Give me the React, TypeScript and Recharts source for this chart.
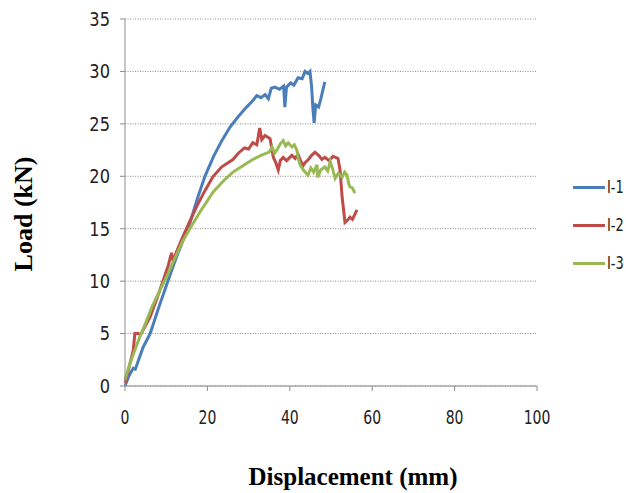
import React from 'react';
import { LineChart, Line, XAxis, YAxis, CartesianGrid } from 'recharts';

const xTicks = [0, 20, 40, 60, 80, 100];
const yTicks = [0, 5, 10, 15, 20, 25, 30, 35];

const seriesNames = ['I-1', 'I-2', 'I-3'];
const seriesColors = ['#4a7ebb', '#be4b48', '#98b954'];

// [displacement (mm), load (kN)]
const i1: [number, number][] = [
  [0, 0], [1, 1], [2, 1.7], [2.5, 1.6], [4.4, 3.7], [6.1, 5], [8.2, 7.5], [10.4, 10],
  [12.5, 12.3], [14.5, 14.3], [15.8, 15.6], [17.5, 17.8], [19.4, 20], [21.5, 21.9],
  [23.5, 23.4], [25.5, 24.7], [27.5, 25.7], [29.5, 26.6], [31, 27.2], [32, 27.7],
  [33, 27.5], [34, 27.8], [34.8, 27.4], [35.5, 28.4], [36.4, 28.5], [37.5, 28.3],
  [38.5, 28.6], [38.8, 26.6], [39.2, 28.5], [40.2, 28.9], [41, 28.7], [42, 29.4],
  [43, 29.3], [43.7, 30], [44.4, 29.8], [44.9, 30], [45.3, 28.5], [45.6, 26.5],
  [45.9, 25.1], [46.3, 26.8], [47, 26.6], [47.6, 27.5], [48.5, 29],
];

const i2: [number, number][] = [
  [0, 0.3], [1, 1.8], [2, 3.4], [2.4, 5], [3.2, 5], [3.8, 4.9], [4.5, 5.4], [6.1, 6.6],
  [7.7, 8.3], [9.2, 10], [10.5, 11.5], [11.3, 12.7], [11.7, 11.9], [12.5, 12.8],
  [14, 14.2], [15.5, 15.5], [17.5, 17.2], [19.5, 18.7], [21.4, 20], [23.5, 20.9],
  [26.2, 21.6], [27.5, 22.2], [29, 22.7], [30, 22.6], [31, 23.2], [32, 23], [32.7, 24.6],
  [33.2, 23.5], [34, 23.9], [35.2, 23.6], [35.7, 22.5], [36, 21.8], [36.6, 21.3],
  [37.2, 20.6], [37.7, 21.5], [38.4, 21.8], [39.2, 21.5], [40.5, 22], [41.3, 21.7],
  [42, 22.1], [42.5, 21.6], [43.2, 21], [43.7, 21.3], [44.5, 21.6], [45.3, 22],
  [46.1, 22.3], [47, 22], [47.8, 21.6], [48.5, 21.8], [49.5, 21.5], [50.5, 21.9],
  [51.7, 21.7], [52.2, 20.6], [52.7, 18], [53.4, 15.6], [54, 15.8], [54.6, 16.1],
  [55.2, 15.9], [56.3, 16.8],
];

const i3: [number, number][] = [
  [0, 0.6], [1, 1.9], [2, 3], [3.5, 4.6], [5, 6], [6.5, 7.5], [8.3, 9], [10.2, 10.5],
  [12, 12.1], [14, 13.8], [16.2, 15.3], [18.2, 16.6], [21.4, 18.5], [24, 19.6],
  [26.2, 20.4], [29, 21.1], [31, 21.6], [33, 22], [35, 22.3], [35.7, 22.8], [36.3, 22.2],
  [37, 22.6], [37.7, 23.1], [38.4, 23.4], [39, 22.9], [39.6, 23.2], [40.5, 22.8],
  [41.1, 23], [41.7, 22.5], [42.1, 21.6], [42.5, 21.1], [43.3, 20.6], [44.4, 20.1],
  [45.1, 20.8], [45.8, 20.4], [46.6, 21.1], [46.8, 19.9], [47.5, 20.6], [48.5, 20.9],
  [49.2, 20.5], [49.8, 21.4], [50.4, 20.7], [51, 19.8], [51.8, 20.3], [52.7, 19.9],
  [53.3, 20.4], [53.9, 20.1], [54.3, 19.3], [54.6, 19], [55.2, 18.9], [55.8, 18.4],
];

const toRows = (pts: [number, number][]) => pts.map(([x, y]) => ({ x, y }));
const seriesData = [toRows(i1), toRows(i2), toRows(i3)];

const tickFont = "'DejaVu Sans Condensed', 'Liberation Sans', sans-serif";
const titleFont = "'Liberation Serif', 'Times New Roman', serif";

const XTick = (props: any) => {
  const { x, y, payload } = props;
  return (
    <g transform={`translate(${x},${y + 8})`}>
      <text x={0} y={0} dy="0.71em" textAnchor="middle" transform="scale(0.82,1)" fontFamily={tickFont} fontSize={19} fill="#222">
        {payload.value}
      </text>
    </g>
  );
};

const YTick = (props: any) => {
  const { x, y, payload } = props;
  return (
    <g transform={`translate(${x - 5},${y})`}>
      <text x={0} y={0} dy="0.36em" textAnchor="end" transform="scale(0.95,1)" fontFamily={tickFont} fontSize={19} fill="#222">
        {payload.value}
      </text>
    </g>
  );
};

export default function App() {
  return (
    <div style={{ position: 'absolute', left: 0, top: 0, width: 626, height: 493, background: '#fff' }}>
      <LineChart
        width={626}
        height={493}
        margin={{ top: 19, right: 89, bottom: 77, left: 95 }}
      >
        <CartesianGrid horizontal vertical={false} stroke="#8a8a8a" strokeDasharray="1 1.5" />
        <XAxis
          type="number"
          dataKey="x"
          domain={[0, 100]}
          ticks={xTicks}
          height={30}
          tickSize={5}
          tickMargin={12}
          stroke="#8c8c8c"
          tick={<XTick />}
          allowDuplicatedCategory={false}
          label={{
            content: () => (
              <text x={353} y={485} textAnchor="middle" fontFamily={titleFont} fontWeight="bold" fontSize={25} fill="#000">
                Displacement (mm)
              </text>
            ),
          }}
        />
        <YAxis
          type="number"
          dataKey="y"
          domain={[0, 35]}
          ticks={yTicks}
          width={30}
          tickSize={5}
          tickMargin={5}
          stroke="#8c8c8c"
          tick={<YTick />}
          label={{
            content: () => (
              <text x={32} y={214} textAnchor="middle" transform="rotate(-90 32 214)" fontFamily={titleFont} fontWeight="bold" fontSize={26} fill="#000">
                Load (kN)
              </text>
            ),
          }}
        />
        {seriesData.map((d, i) => (
          <Line
            key={seriesNames[i]}
            data={d}
            dataKey="y"
            name={seriesNames[i]}
            stroke={seriesColors[i]}
            strokeWidth={3}
            dot={false}
            type="linear"
            isAnimationActive={false}
          />
        ))}
      </LineChart>
      <div style={{ position: 'absolute', left: 573, top: 176, fontFamily: tickFont, fontSize: 17, color: '#222', whiteSpace: 'nowrap' }}>
        {seriesNames.map((n, i) => (
          <div key={n} style={{ display: 'flex', alignItems: 'center', height: 22, marginBottom: i < 2 ? 16 : 0 }}>
            <div style={{ width: 32, height: 3, background: seriesColors[i], marginRight: 2, flex: 'none' }} />
            <span style={{ display: 'inline-block', transform: 'scaleX(0.85)', transformOrigin: 'left center' }}>{n}</span>
          </div>
        ))}
      </div>
    </div>
  );
}
